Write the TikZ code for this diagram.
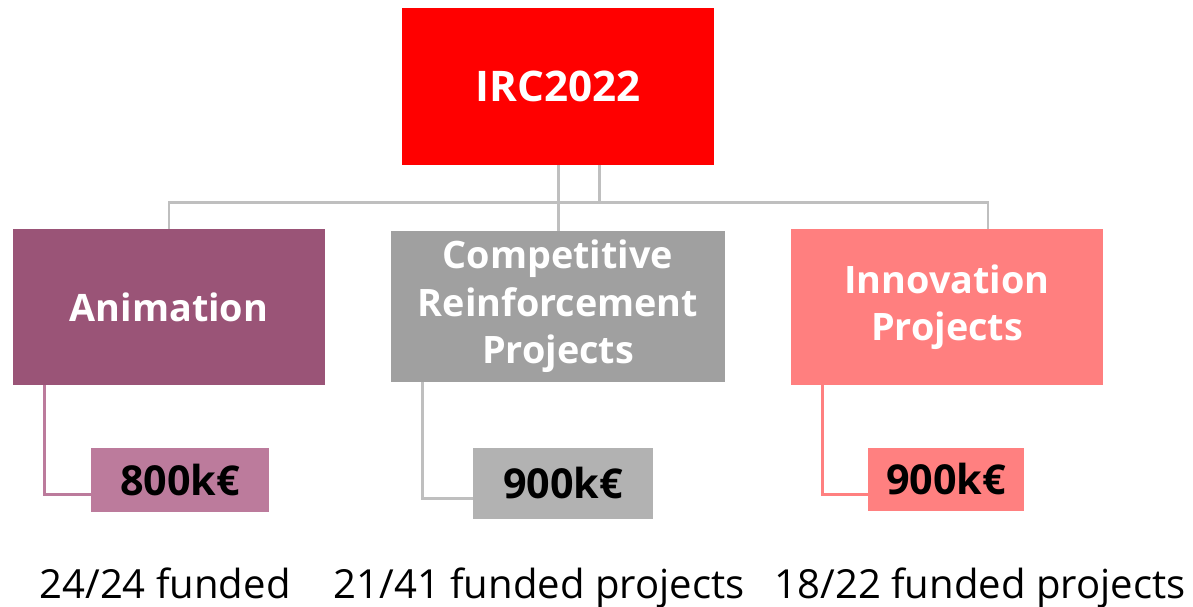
\documentclass[tikz,border=0pt]{standalone}
\usepackage{fontspec}
\setmainfont{Open Sans}
\usepackage{tikz}
\usetikzlibrary{positioning}
\definecolor{irc}{HTML}{FF0000}
\definecolor{anim}{HTML}{9A5477}
\definecolor{comp}{HTML}{A0A0A0}
\definecolor{innov}{HTML}{FF7F7F}
\definecolor{animlt}{HTML}{BC7B9C}
\definecolor{complt}{HTML}{B2B2B2}
\definecolor{innovlt}{HTML}{FF8080}
\definecolor{wire}{HTML}{BFBFBF}

\begin{document}
\begin{tikzpicture}[x=0.02cm,y=-0.02cm,
 box/.style={inner sep=0pt,align=center,text=white,font=\fontsize{21.5}{27}\selectfont\bfseries},
 fund/.style={inner sep=0pt,font=\fontsize{23.5}{27}\selectfont\bfseries},
 tally/.style={anchor=base,font=\fontsize{22.8}{27}\selectfont},
 wire/.style={draw=wire,line width=1.7pt}]
\useasboundingbox (0,0) rectangle (1193,606);
\node[box,fill=irc,minimum width=6.24cm,minimum height=3.14cm,font=\fontsize{24}{27}\selectfont\bfseries] (irc) at (558,86.5) {IRC2022};
\node[box,fill=anim,minimum width=6.24cm,minimum height=3.12cm] (anim) at (169,307) {Animation};
\node[box,fill=comp,minimum width=6.68cm,minimum height=3.02cm] (comp) at (558,306.5) {Competitive\\Reinforcement\\Projects};
\node[box,fill=innov,minimum width=6.24cm,minimum height=3.12cm] (innov) at (947,307) {Innovation\\Projects};
\node[fund,fill=animlt,minimum width=3.56cm,minimum height=1.28cm] (animfund) at (180,480) {800k€};
\node[fund,fill=complt,minimum width=3.6cm,minimum height=1.42cm] (compfund) at (563,483.5) {900k€};
\node[fund,fill=innovlt,minimum width=3.12cm,minimum height=1.26cm] (innovfund) at (946,479.5) {900k€};
\node[tally] (animtally) at (165,598) {24/24 funded};
\node[tally] (comptally) at (539,598) {21/41 funded projects};
\node[tally] (innovtally) at (980,598) {18/22 funded projects};
\coordinate (hub) at (599,202);
\draw[wire] (irc.south) -- (comp.north);
\draw[wire] (irc.south -| hub) -- (hub);
\draw[wire] (anim.north) |- (hub);
\draw[wire] ([xshift=0.82cm]innov.north) |- (hub);
\draw[wire,draw=animlt] ([xshift=0.64cm]anim.south west) |- ([yshift=-0.28cm]animfund.west);
\draw[wire] ([xshift=0.64cm]comp.south west) |- ([yshift=-0.29cm]compfund.west);
\draw[wire,draw=innovlt] ([xshift=0.64cm]innov.south west) |- ([yshift=-0.29cm]innovfund.west);
\end{tikzpicture}
\end{document}
